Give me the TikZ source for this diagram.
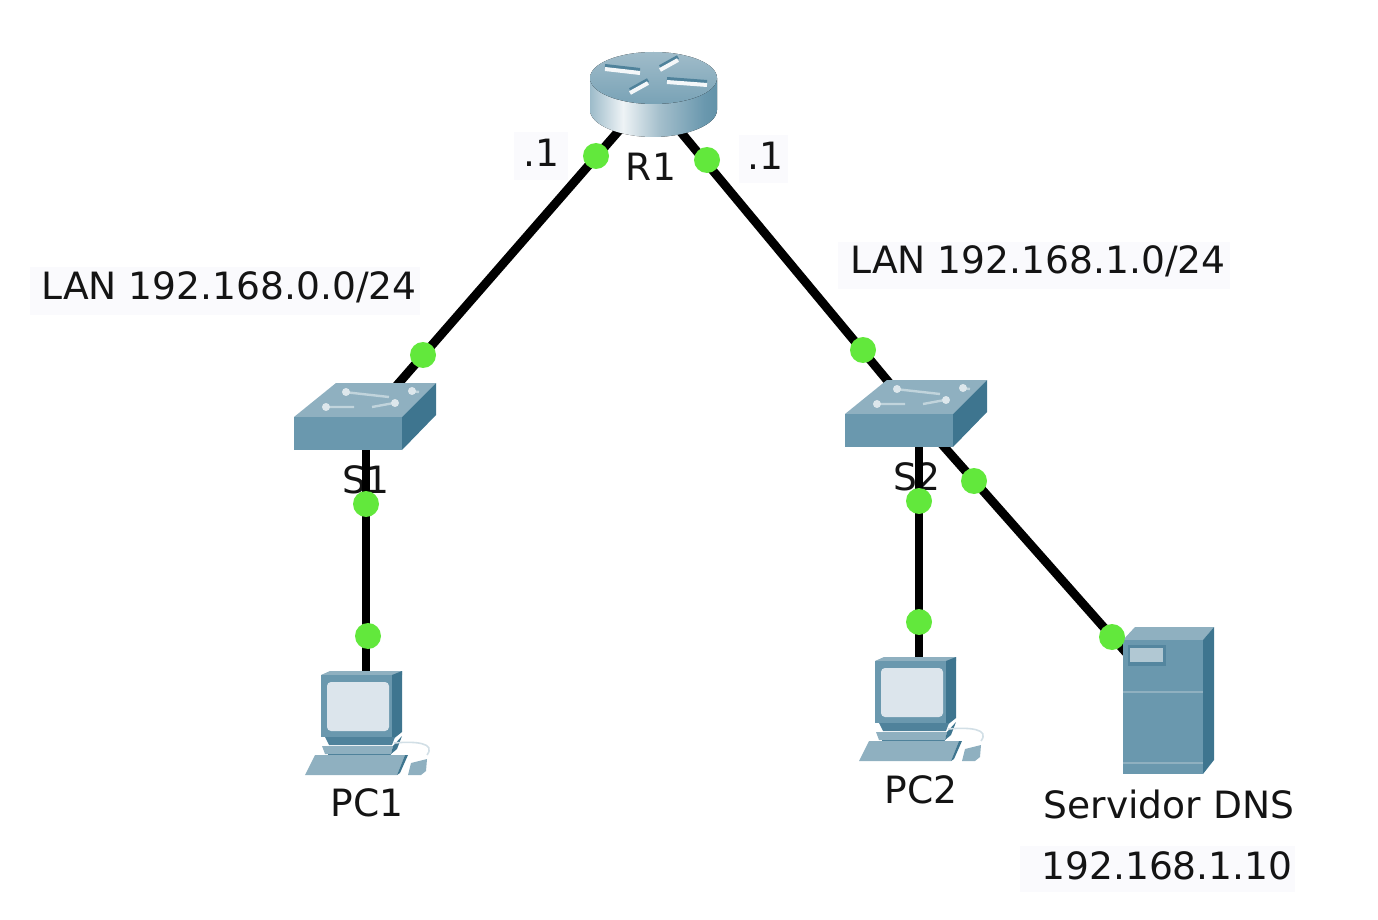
\documentclass[tikz,border=0pt]{standalone}
\usepackage{fontspec}
\setmainfont{DejaVu Sans}
\definecolor{frontc}{HTML}{6A98AE}
\definecolor{topc}{HTML}{8FB0C0}
\definecolor{sidec}{HTML}{3E758F}
\definecolor{darkc}{HTML}{4F829B}
\definecolor{screenc}{HTML}{DCE5EC}
\definecolor{dotc}{HTML}{62E83C}
\definecolor{labelbg}{HTML}{FAFAFD}
\pgfdeclarehorizontalshading{routerbody}{100bp}{
  color(0bp)=(topc); color(12bp)=(frontc);
  color(24bp)=(frontc!70!white); color(38bp)=(white!85!topc); color(52bp)=(topc!80!white);
  color(70bp)=(frontc); color(100bp)=(sidec)}
\tikzset{
  x=0.5pt,y=-0.5pt,
  link/.style={line width=4.4pt,black},
  portdot/.style={circle,fill=dotc,draw=none,inner sep=0pt,minimum size=13pt},
  lbl/.style={font=\fontsize{18.8pt}{20pt}\selectfont,text=black!92,inner sep=0pt},
  bglbl/.style={lbl,fill=labelbg,anchor=center},
  device/.style={draw=none,inner sep=0pt,minimum size=1pt},
  switchart/.pic={
    \fill[topc] (0,34)--(42,0)--(142,0)--(108,34)--cycle;
    \fill[frontc] (0,34)--(108,34)--(108,67)--(0,67)--cycle;
    \fill[sidec] (108,34)--(142,0)--(142,32)--(108,67)--cycle;
    \draw[white!45!topc,line width=1.2pt] (50,9)--(95,14) (30,24)--(60,24) (100,20)--(78,24) (115,8)--(125,9);
    \fill[white!70!topc] (52,9) circle (4) (32,24) circle (4) (101,20) circle (4) (118,8) circle (4);
  },
  pcart/.pic={
    \fill[topc] (0,4)--(9,0)--(81,0)--(81,4)--cycle;
    \fill[frontc] (0,4)--(71,4)--(71,66)--(0,66)--cycle;
    \fill[sidec] (71,4)--(81,0)--(81,61)--(71,69)--cycle;
    \fill[screenc,rounded corners=2pt] (6,11) rectangle (68,60);
    \fill[darkc] (4,66)--(74,66)--(71,74)--(8,74)--cycle;
    \fill[topc] (1,75)--(72,75)--(70,83)--(4,83)--cycle;
    \fill[sidec] (72,75)--(81,65)--(76,78)--(70,83)--cycle;
    \fill[darkc] (7,83)--(70,83)--(67,90)--(7,90)--cycle;
    \fill[topc] (-6,84)--(84,84)--(76,104)--(-16,104)--cycle;
    \fill[sidec] (76,104)--(84,84)--(87,84)--(79,102)--cycle;
    \fill[topc] (87,104)--(90,92)--(106,88)--(105,100)--(100,104)--cycle;
    \draw[white!60!topc,line width=.8pt] (73,72) .. controls (95,70) and (115,72) .. (106,84);
  }
}
\begin{document}
\begin{tikzpicture}
\useasboundingbox (0,0) rectangle (1378,920);
% labels
\node[bglbl,minimum width=195pt,minimum height=23.5pt] (lanA) at (225,291) {};
\node[bglbl,minimum width=196pt,minimum height=23.5pt] (lanB) at (1034,266) {};
\node[bglbl,minimum width=27pt,minimum height=24pt] (dotA) at (541,156) {};
\node[bglbl,minimum width=24.5pt,minimum height=24pt] (dotB) at (763,159) {};
\node[bglbl,minimum width=137.5pt,minimum height=23pt] (ipbg) at (1157,869) {};
\node[lbl] (tlanA) at (229,287) {LAN 192.168.0.0/24};
\node[lbl] (tlanB) at (1038,261) {LAN 192.168.1.0/24};
\node[lbl] (tdotA) at (541,153) {.1};
\node[lbl] (tdotB) at (765,156) {.1};
\node[lbl] (tR) at (651,167) {R1};
\node[lbl] (tS1) at (366,480) {S1};
\node[lbl] (tS2) at (917,477) {S2};
\node[lbl] (tPC1) at (367,803) {PC1};
\node[lbl] (tPC2) at (921,790) {PC2};
\node[lbl] (tSrv) at (1169,804) {Servidor DNS};
\node[lbl] (tIp) at (1167,866) {192.168.1.10};
% device anchors
\node[device] (R1) at (650,95) {};
\node[device] (S1) at (371,415) {};
\node[device] (S1b) at (366,430) {};
\node[device] (S2) at (916,415) {};
\node[device] (S2b) at (919,430) {};
\node[device] (PC1) at (366,700) {};
\node[device] (PC2) at (919,690) {};
\node[device] (DNS) at (1168,700) {};
% connectors
\draw[link] (R1.center) -- (S1.center);
\draw[link] (R1.center) -- (S2.center);
\draw[link] (S1b.center) -- (PC1.center);
\draw[link] (S2b.center) -- (PC2.center);
\draw[link] (S2.center) -- (DNS.center);
% router
\fill[shading=routerbody] (590,78) -- (590,110) .. controls (590,125) and (620,137) .. (653,137) .. controls (686,137) and (717,125) .. (717,110) -- (717,78) -- cycle;
\fill[top color=topc!85!white,bottom color=frontc!90!white] (653.5,78) ellipse [x radius=63.5,y radius=26];
\draw[darkc,line width=2pt] (605,66)--(640,70) (660,67)--(678,57) (630,90)--(648,80) (667,79)--(707,82);
\draw[white!90!topc,line width=2pt] (605,69)--(640,73) (660,70)--(678,60) (630,93)--(648,83) (667,82)--(707,85);
% switches and PCs
\pic at (294,383) {switchart};
\pic at (845,380) {switchart};
\pic at (321,671) {pcart};
\pic at (875,657) {pcart};
% server
\fill[topc] (1123,640)--(1135,627)--(1214,627)--(1203,640)--cycle;
\fill[frontc] (1123,640) rectangle (1203,774);
\fill[sidec] (1203,640)--(1214,627)--(1214,760)--(1203,774)--cycle;
\fill[darkc!80!frontc] (1128,645) rectangle (1166,666);
\fill[topc!70!white] (1130,648) rectangle (1163,662);
\draw[topc,line width=.8pt] (1123,692)--(1203,692) (1123,763)--(1203,763);
% port lights
\node[portdot] (a1) at (596,156) {};
\node[portdot] (a2) at (423,355) {};
\node[portdot] (b1) at (707,160) {};
\node[portdot] (b2) at (863,350) {};
\node[portdot] (c1) at (366,504) {};
\node[portdot] (c2) at (368,636) {};
\node[portdot] (d1) at (919,501) {};
\node[portdot] (d2) at (919,622) {};
\node[portdot] (e1) at (974,481) {};
\node[portdot] (e2) at (1112,637) {};
\end{tikzpicture}
\end{document}
